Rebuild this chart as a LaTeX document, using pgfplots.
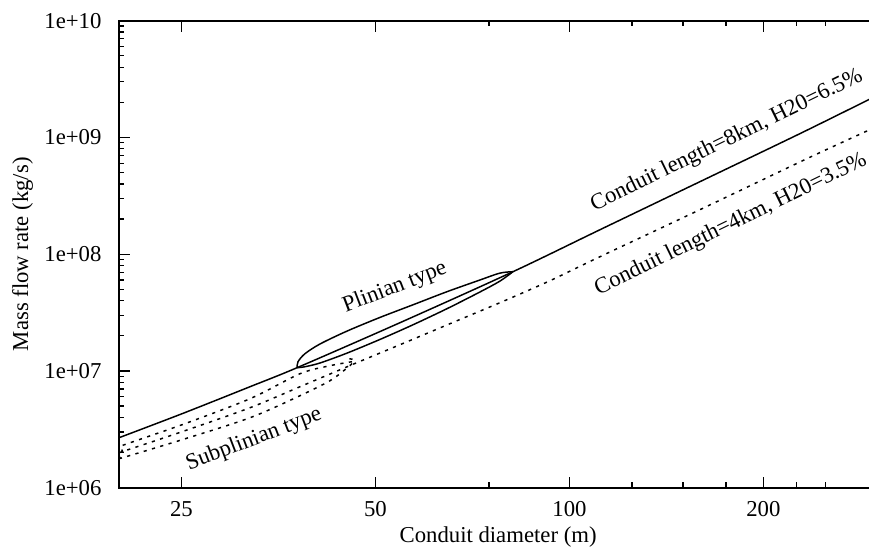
\documentclass[border=0pt]{standalone}
\usepackage{fontspec}
\setmainfont{Liberation Serif}
\usepackage{pgfplots}
\pgfplotsset{compat=1.18}

\begin{document}
\begin{tikzpicture}
\begin{loglogaxis}[
  scale only axis,
  width=331.8pt, height=205.5pt,
  xmin=20, xmax=296, ymin=1e6, ymax=1e10,
  xtick={25,50,100,200},
  xticklabels={25,50,100,200},
  minor xtick={75,125,150,175,225,250},
  ytick={1e6,1e7,1e8,1e9,1e10},
  yticklabels={1e+06,1e+07,1e+08,1e+09,1e+10},
  minor ytick={2e6,3e6,4e6,5e6,6e6,7e6,8e6,9e6,
               2e7,3e7,4e7,5e7,6e7,7e7,8e7,9e7,
               2e8,3e8,4e8,5e8,6e8,7e8,8e8,9e8,
               2e9,3e9,4e9,5e9,6e9,7e9,8e9,9e9},
  ytick pos=left,
  major tick length=4.8pt, minor tick length=2.4pt,
  tick style={black, line width=0.55pt},
  axis line style={black, line width=0.8pt},
  xlabel={Conduit diameter (m)},
  ylabel={Mass flow rate (kg/s)},
  every axis x label/.style={at={(axis description cs:0.5027,-0.105)}, anchor=center},
  every axis y label/.style={at={(axis description cs:-0.128,0.5)}, anchor=center, rotate=90},
  xticklabel style={yshift=-2.5pt},
  yticklabel style={xshift=-4.2pt},
  every axis plot/.append style={black, line width=0.65pt},
]
% conduit 8 km, 6.5 % water
\addplot[smooth] coordinates {
  (20,2.681e6) (25.05,4.303e6) (31.94,7.331e6) (37.78,1.066e7)
  (54.58,2.590e7) (81.72,7.081e7) (111.54,1.621e8) (159.4,4.178e8)
  (227.8,1.077e9) (296,2.20e9)
};
% conduit 4 km, 3.5 % water
\addplot[smooth, dash pattern=on 1.4pt off 2.4pt] coordinates {
  (20,1.994e6) (25.05,3.018e6) (31.94,4.844e6) (38.19,7.330e6)
  (45.98,1.131e7) (54.58,1.678e7) (65.25,2.539e7) (78.02,3.843e7)
  (93.30,5.931e7) (111.54,9.519e7) (159.4,2.405e8) (233.6,6.577e8)
  (296,1.20e9)
};
% Plinian field, upper and lower edge
\addplot[smooth] coordinates {
  (37.78,1.066e7) (37.92,1.200e7) (38.87,1.405e7) (41.01,1.702e7)
  (45.17,2.195e7) (50.82,2.875e7) (57.17,3.686e7) (64.56,4.773e7)
  (72.63,6.012e7) (78.02,6.889e7) (81.72,7.081e7)
};
\addplot[smooth] coordinates {
  (37.78,1.066e7) (38.87,1.087e7) (41.01,1.170e7) (45.17,1.422e7)
  (50.82,1.863e7) (57.17,2.485e7) (64.56,3.414e7) (72.63,4.745e7)
  (78.02,5.883e7) (81.72,7.081e7)
};
% Subplinian field
\addplot[smooth, dash pattern=on 1.4pt off 2.4pt] coordinates {
  (45.98,1.200e7) (42.50,1.109e7) (38.19,9.472e6) (31.94,5.786e6)
  (25.05,3.464e6) (20,2.245e6)
  (20.14,2.158e6) (20.29,1.994e6) (20.14,1.843e6) (20,1.772e6)
  (25.05,2.577e6) (31.94,3.977e6) (38.19,6.138e6) (42.50,8.251e6)
  (44.84,1.025e7) (45.98,1.154e7) (46.31,1.200e7) (45.98,1.261e7)
  (45.33,1.273e7)
};
\node[rotate=21] at (axis cs:53.61,5.165e7) {Plinian type};
\node[rotate=21] at (axis cs:32.40,2.577e6) {Subplinian type};
\node[rotate=26] at (axis cs:175.5,9.379e8) {Conduit length=8km, H20=6.5\%};
\node[rotate=26] at (axis cs:178.1,1.789e8) {Conduit length=4km, H20=3.5\%};
\end{loglogaxis}
\pgfresetboundingbox
\path[use as bounding box]
  ([xshift=-52.36pt,yshift=-25.96pt]current axis.south west)
  rectangle ([xshift=330pt,yshift=214.6pt]current axis.south west);
\end{tikzpicture}
\end{document}
